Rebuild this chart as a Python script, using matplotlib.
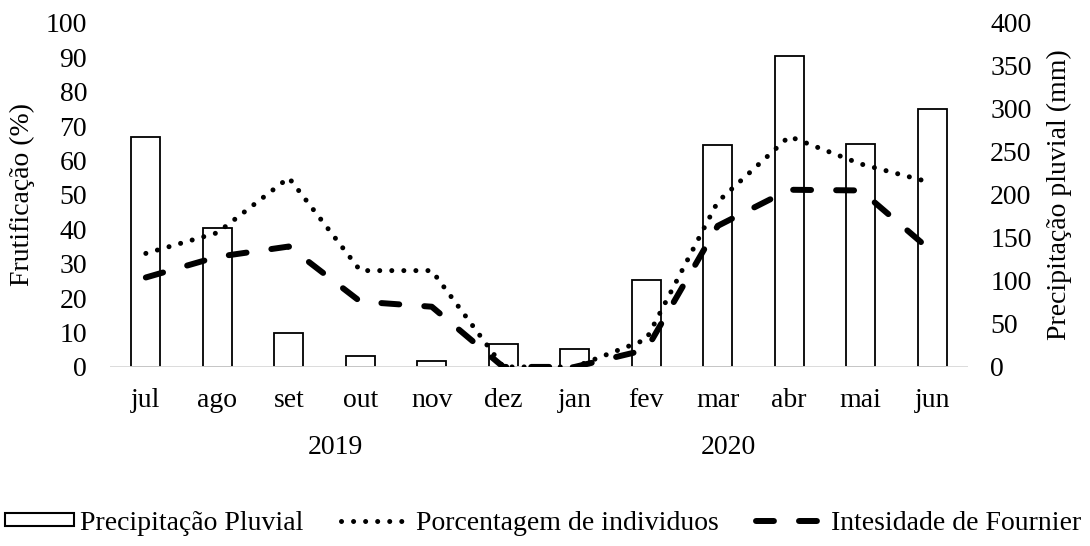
import matplotlib
matplotlib.use('Agg')
import matplotlib.pyplot as plt
import matplotlib.transforms as mtransforms
from matplotlib.patches import Rectangle
from matplotlib.lines import Line2D
import numpy as np

plt.rcParams['font.family'] = ['Liberation Serif', 'DejaVu Serif']
plt.rcParams['font.size'] = 20

months = ['jul', 'ago', 'set', 'out', 'nov', 'dez',
          'jan', 'fev', 'mar', 'abr', 'mai', 'jun']
years = ['2019', '2020']
year_pos = [2.65, 8.15]

# precipitação pluvial (mm) - eixo direito
precip = [267, 161, 39, 13, 7, 27, 21, 101, 258, 362, 259, 300]
# porcentagem de individuos (%) - eixo esquerdo
porcentagem = [33, 39, 55, 28, 28, 0, 0, 8, 48, 67, 59, 53.5]
# intensidade de Fournier (%)
fournier = [26, 32, 35, 19, 17.5, 0, 0, 5, 41, 51.5, 51.3, 33.5]

x = np.arange(len(months))

fig, ax = plt.subplots(figsize=(10.9, 5.46), dpi=100)
fig.subplots_adjust(left=0.101, right=0.888, bottom=0.328, top=0.958)
ax2 = ax.twinx()

ax2.bar(x, precip, width=0.41, color='white', edgecolor='black',
        linewidth=1.3, zorder=2)
ax2.axhline(0, color='#d9d9d9', linewidth=1.3, zorder=3)

dot_style = dict(color='black', linewidth=3.6, linestyle=(0, (0.01, 2.4)),
                 dash_capstyle='round')
dash_style = dict(color='black', linewidth=4.3, linestyle=(0, (3.0, 4.2)),
                  dash_capstyle='round')
ax.plot(x, porcentagem, zorder=4, **dot_style)
ax.plot(x, fournier, zorder=5, **dash_style)

ax.set_zorder(ax2.get_zorder() + 1)
ax.patch.set_visible(False)

ax.set_xlim(-0.5, len(months) - 0.5)
ax.set_ylim(0, 100)
ax.set_yticks(np.arange(0, 101, 10))
ax2.set_ylim(0, 400)
ax2.set_yticks(np.arange(0, 401, 50))
ax.set_xticks(x)
ax.set_xticklabels(months)

for a in (ax, ax2):
    for s in a.spines.values():
        s.set_visible(False)
ax.tick_params(axis='both', length=0)
ax.tick_params(axis='y', pad=16.5)
ax.tick_params(axis='x', pad=15)
ax2.tick_params(axis='y', length=0, pad=16)

ax.set_ylabel('Frutificação (%)', labelpad=8)
ax2.set_ylabel('Precipitação pluvial (mm)', labelpad=11)

trans = mtransforms.blended_transform_factory(ax.transData, ax.transAxes)
for yr, xp in zip(years, year_pos):
    ax.text(xp, -0.235, yr, transform=trans, ha='center', va='center')

handles = [
    Rectangle((0, 0), 1, 1, facecolor='white', edgecolor='black', linewidth=1.5),
    Line2D([], [], **dot_style),
    Line2D([], [], **dash_style),
]
labels = ['Precipitação Pluvial', 'Porcentagem de individuos',
          'Intesidade de Fournier']
fig.legend(handles, labels, loc='center', bbox_to_anchor=(0.498, 0.042),
           ncol=3, frameon=False, handlelength=2.5, handletextpad=0.2,
           columnspacing=1.35, handleheight=0.36, borderpad=0,
           borderaxespad=0)

fig.savefig('out.png', dpi=100)
